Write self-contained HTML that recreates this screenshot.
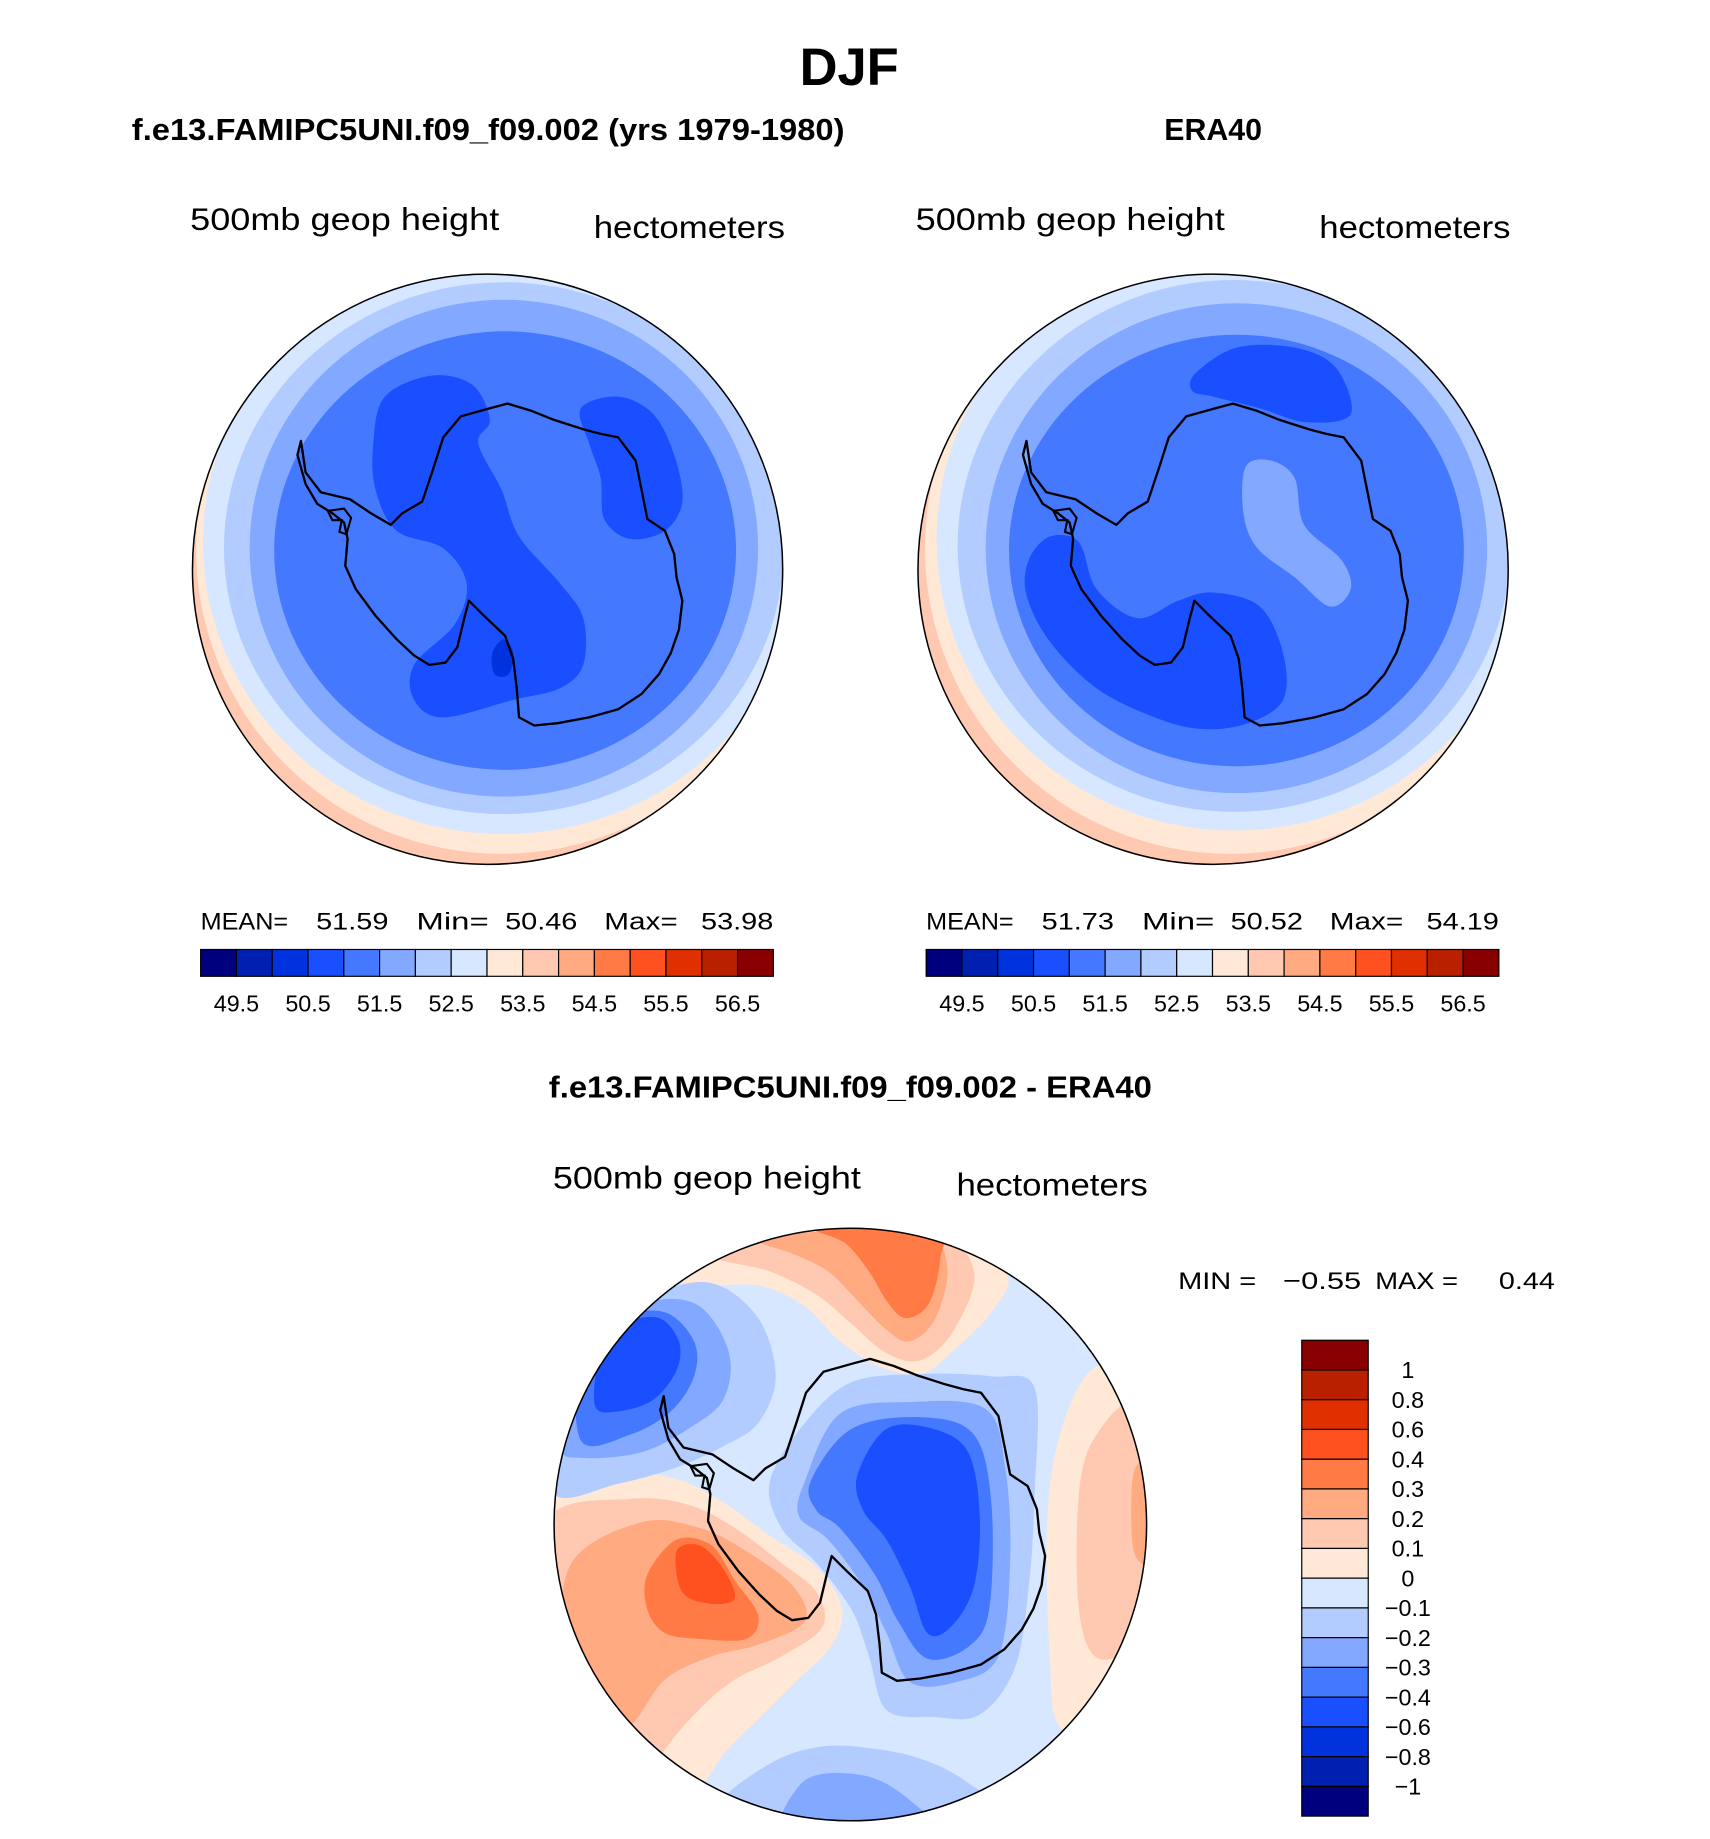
<!DOCTYPE html>
<html><head><meta charset="utf-8"><style>
html,body{margin:0;padding:0;background:#fff}
svg{display:block}
text{font-family:"Liberation Sans",sans-serif;fill:#000}
.b{font-weight:bold}
</style></head><body>
<svg id="root" width="1710" height="1839" viewBox="0 0 1466 1576.6" xmlns="http://www.w3.org/2000/svg">
<defs>
<clipPath id="cL"><circle cx="418" cy="488" r="253"/></clipPath>
<clipPath id="cR"><circle cx="1040" cy="488" r="253"/></clipPath>
<clipPath id="cB"><circle cx="729" cy="1307" r="254"/></clipPath>
</defs>
<text x="728" y="73" text-anchor="middle" class="b" font-size="45">DJF</text>
<text x="113" y="120" class="b" font-size="26" textLength="611" lengthAdjust="spacingAndGlyphs">f.e13.FAMIPC5UNI.f09_f09.002 (yrs 1979-1980)</text>
<text x="1040" y="120" text-anchor="middle" class="b" font-size="26">ERA40</text>
<text x="729" y="941" text-anchor="middle" class="b" font-size="26" textLength="517" lengthAdjust="spacingAndGlyphs">f.e13.FAMIPC5UNI.f09_f09.002 - ERA40</text>

<text x="163" y="197" font-size="27" textLength="265" lengthAdjust="spacingAndGlyphs">500mb geop height</text>
<text x="509" y="204" font-size="27" textLength="164" lengthAdjust="spacingAndGlyphs">hectometers</text>
<text x="785" y="197" font-size="27" textLength="265" lengthAdjust="spacingAndGlyphs">500mb geop height</text>
<text x="1131" y="204" font-size="27" textLength="164" lengthAdjust="spacingAndGlyphs">hectometers</text>
<text x="474" y="1019" font-size="27" textLength="264" lengthAdjust="spacingAndGlyphs">500mb geop height</text>
<text x="820" y="1025" font-size="27" textLength="164" lengthAdjust="spacingAndGlyphs">hectometers</text>

<g id="mapL" clip-path="url(#cL)"></g>
<g id="mapR" clip-path="url(#cR)"></g>
<g id="mapB" clip-path="url(#cB)"></g>
<circle cx="418" cy="488" r="253" fill="none" stroke="#000" stroke-width="1.3"/>
<circle cx="1040" cy="488" r="253" fill="none" stroke="#000" stroke-width="1.3"/>
<circle cx="729" cy="1307" r="254" fill="none" stroke="#000" stroke-width="1.3"/>

<g id="statsL"></g>
<g id="statsR"></g>
<g id="cbL"></g>
<g id="cbR"></g>
<g id="cbB"></g>
<text x="1010" y="1105" font-size="21" textLength="67" lengthAdjust="spacingAndGlyphs">MIN =</text>
<text x="1100" y="1105" font-size="21" textLength="67" lengthAdjust="spacingAndGlyphs">−0.55</text>
<text x="1179" y="1105" font-size="21" textLength="71" lengthAdjust="spacingAndGlyphs">MAX =</text>
<text x="1285" y="1105" font-size="21" textLength="48" lengthAdjust="spacingAndGlyphs">0.44</text>
</svg>
<script>
const colors = ["#00007f","#0021b0","#0033dd","#1a4fff","#4478ff","#83a8ff","#b3ccff","#d6e7ff","#ffe8d6","#ffc8b0","#ffaa80","#ff7a45","#ff5020","#e03000","#b82000","#880000"];
const absLabels = ["49.5","50.5","51.5","52.5","53.5","54.5","55.5","56.5"];
const diffLabels = ["1","0.8","0.6","0.4","0.3","0.2","0.1","0","−0.1","−0.2","−0.3","−0.4","−0.6","−0.8","−1"];
const statsModel = ["51.59","50.46","53.98"];
const statsEra = ["51.73","50.52","54.19"];
const NS="http://www.w3.org/2000/svg";
function mk(tag,attrs,parent){const e=document.createElementNS(NS,tag);for(const k in attrs)e.setAttribute(k,attrs[k]);parent.appendChild(e);return e;}
function smooth(p){let d="M"+p[0][0]+","+p[0][1];const n=p.length;
 for(let i=0;i<n;i++){const p0=p[(i-1+n)%n],p1=p[i],p2=p[(i+1)%n],p3=p[(i+2)%n];
  const c1=[p1[0]+(p2[0]-p0[0])/6,p1[1]+(p2[1]-p0[1])/6],c2=[p2[0]-(p3[0]-p1[0])/6,p2[1]-(p3[1]-p1[1])/6];
  d+="C"+c1.join(",")+" "+c2.join(",")+" "+p2.join(",");}return d+"Z";}
function layer(g,lvl,pts){const e=mk("path",{d:smooth(pts),fill:colors[lvl-1]},g);
 
 }
function ell(g,lvl,cx,cy,rx,ry){const e=mk("ellipse",{cx,cy,rx,ry,fill:colors[lvl-1]},g);
 
 }
const coast=[[258,378],[262,405],[275,422],[300,428],[318,440],[335,450],[345,440],[362,430],[372,400],[380,375],[395,357],[420,350],[435,346],[455,352],[475,360],[500,368],[515,372],[530,375],[545,395],[550,420],[555,445],[570,455],[578,475],[580,495],[585,515],[582,540],[575,560],[565,578],[550,595],[530,608],[505,615],[478,620],[458,622],[445,615],[443,590],[440,565],[433,545],[415,528],[402,515],[398,530],[392,555],[382,568],[368,570],[355,562],[340,548],[322,528],[305,505],[296,485],[298,462],[295,448],[285,440],[272,432],[262,415],[255,390]];
function drawCoast(g,dx,dy){const d="M"+coast.map(p=>(p[0]+dx)+","+(p[1]+dy)).join("L")+"Z";
 const e=mk("path",{d,fill:"none",stroke:"#000","stroke-width":2,"stroke-linejoin":"round"},g);
 
 
 const i=mk("path",{d:`M${281+dx},${438+dy}l14,-2l6,8l-4,14l-6,-2l2,-10l-8,0z`,fill:"none",stroke:"#000","stroke-width":1.8},g);
 
 }
// model map
const L=document.getElementById("mapL");
mk("rect",{x:160,y:230,width:520,height:520,fill:colors[9]},L);
ell(L,9,430,470,262,262);ell(L,8,432,465,258,250);ell(L,7,432,470,240,228);ell(L,6,432,470,218,213);ell(L,5,433,472,198,188);
layer(L,4,[[330,340],[370,322],[405,330],[420,360],[410,380],[430,420],[445,460],[480,500],[500,530],[500,570],[480,590],[440,600],[380,615],[355,600],[355,570],[390,535],[400,500],[380,470],[340,455],[322,420],[320,380]]);
layer(L,4,[[498,350],[530,340],[560,355],[578,390],[585,430],[570,455],[540,462],[518,445],[515,410],[505,380]]);
layer(L,3,[[422,560],[432,548],[440,560],[436,578],[424,578]]);
drawCoast(L,0,0);
// era map
const R=document.getElementById("mapR");
mk("rect",{x:780,y:230,width:520,height:520,fill:colors[9]},R);
ell(R,9,1055,470,262,262);ell(R,8,1058,462,255,250);ell(R,7,1058,468,237,228);ell(R,6,1060,470,215,210);ell(R,5,1060,472,195,185);
layer(R,4,[[1025,320],[1060,298],[1110,298],[1145,315],[1158,355],[1120,362],[1080,350],[1040,340],[1022,335]]);
layer(R,4,[[882,480],[900,460],[925,465],[940,505],[975,530],[1010,515],[1040,508],[1080,520],[1100,560],[1100,600],[1070,620],[1030,625],[990,615],[940,590],[900,550],[880,510]]);
layer(R,6,[[1068,400],[1090,395],[1110,410],[1118,450],[1150,480],[1158,505],[1140,520],[1110,495],[1078,470],[1066,440]]);
drawCoast(R,622,0);
// difference map
const B=document.getElementById("mapB");
mk("rect",{x:470,y:1050,width:520,height:520,fill:colors[7]},B);
layer(B,9,[[560,1090],[620,1070],[700,1050],[800,1052],[862,1090],[850,1125],[815,1160],[790,1178],[755,1172],[720,1150],[690,1120],[650,1102],[600,1102]]);
layer(B,10,[[610,1075],[700,1056],[800,1056],[835,1090],[818,1140],[790,1166],[760,1160],[730,1135],[700,1110],[660,1090]]);
layer(B,11,[[650,1063],[700,1056],[790,1056],[812,1085],[802,1130],[780,1150],[760,1140],[735,1115],[710,1090],[680,1075]]);
layer(B,12,[[700,1052],[800,1052],[806,1080],[796,1118],[776,1130],[760,1115],[745,1090],[725,1066]]);
layer(B,9,[[935,1175],[965,1175],[995,1250],[995,1400],[962,1482],[910,1482],[900,1420],[898,1300],[910,1225]]);
layer(B,10,[[940,1230],[975,1205],[995,1300],[978,1400],[942,1422],[925,1380],[925,1280]]);
layer(B,11,[[972,1262],[990,1260],[990,1335],[972,1330]]);
layer(B,9,[[470,1270],[530,1262],[580,1268],[620,1288],[662,1318],[702,1345],[722,1380],[712,1412],[682,1442],[652,1472],[622,1502],[600,1532],[562,1565],[510,1545],[468,1450],[466,1300]]);
layer(B,10,[[470,1302],[540,1285],[590,1290],[630,1310],[670,1340],[700,1365],[705,1395],[670,1420],[630,1440],[600,1465],[570,1500],[540,1548],[480,1500],[466,1400]]);
layer(B,11,[[490,1340],[550,1305],[600,1310],[640,1330],[680,1360],[690,1390],[650,1410],[610,1420],[570,1440],[540,1480],[500,1500],[482,1420]]);
layer(B,12,[[555,1350],[580,1320],[610,1325],[630,1355],[650,1385],[640,1405],[600,1405],[570,1400],[555,1380]]);
layer(B,13,[[580,1330],[600,1325],[620,1345],[630,1370],[610,1375],[585,1365]]);
layer(B,7,[[476,1200],[520,1140],[560,1110],[610,1100],[650,1130],[665,1180],[650,1220],[620,1240],[580,1258],[530,1272],[474,1280]]);
layer(B,6,[[488,1180],[520,1135],[560,1115],[600,1120],[625,1160],[620,1200],[590,1225],[550,1245],[500,1250],[480,1240]]);
layer(B,5,[[498,1160],[530,1130],[570,1125],[595,1150],[595,1180],[575,1210],[540,1230],[498,1235]]);
layer(B,4,[[515,1160],[535,1135],[565,1130],[582,1150],[580,1175],[560,1200],[530,1210],[510,1205]]);
layer(B,7,[[660,1270],[690,1220],[730,1185],[790,1178],[850,1180],[887,1190],[887,1280],[882,1360],[870,1430],[840,1470],[800,1472],[760,1466],[745,1420],[730,1380],[700,1340],[670,1310]]);
layer(B,6,[[690,1270],[720,1212],[780,1202],[845,1208],[862,1260],[866,1340],[856,1420],[820,1442],[780,1442],[760,1400],[740,1360],[710,1320],[685,1300]]);
layer(B,5,[[695,1270],[730,1225],[790,1215],[835,1230],[850,1290],[848,1380],[830,1412],[795,1422],[770,1390],[750,1350],[720,1310],[700,1295]]);
layer(B,4,[[735,1265],[760,1225],[800,1225],[830,1245],[840,1300],[835,1360],[815,1395],[795,1400],[780,1360],[760,1320],[740,1295]]);
layer(B,7,[[615,1548],[660,1512],[700,1498],[740,1498],[790,1508],[832,1530],[862,1565],[620,1585]]);
layer(B,6,[[675,1585],[688,1528],[740,1522],[782,1545],[812,1585]]);
drawCoast(B,311,819);
// horizontal colorbars
function hbar(id,x0,stats){const g=document.getElementById(id);const w=(663-172)/16;
 colors.forEach((c,i)=>{const r=mk("rect",{x:x0+i*w,y:814,width:w,height:23,fill:c,stroke:"#000","stroke-width":1},g);
  
  });
 absLabels.forEach((t,i)=>{const e=mk("text",{x:x0+(2*i+1)*w,y:867,"text-anchor":"middle","font-size":20},g);e.textContent=t;
  
  });
 const sg=document.getElementById(stats.id);
 const parts=[["MEAN=",0,75],[stats.v[0],99,62],["Min=",185,62],[stats.v[1],261,62],["Max=",346,63],[stats.v[2],429,62]];
 parts.forEach(p=>{const e=mk("text",{x:x0+p[1],y:797,"font-size":21,textLength:p[2],lengthAdjust:"spacingAndGlyphs"},sg);e.textContent=p[0];
  
  });}
hbar("cbL",172,{id:"statsL",v:statsModel});
hbar("cbR",794,{id:"statsR",v:statsEra});
// vertical colorbar
(function(){const g=document.getElementById("cbB");const h=(1557-1149)/16;
 colors.slice().reverse().forEach((c,i)=>{const r=mk("rect",{x:1116,y:1149+i*h,width:57,height:h,fill:c,stroke:"#000","stroke-width":1},g);
  
  });
 diffLabels.forEach((t,i)=>{const e=mk("text",{x:1207,y:1149+(i+1)*h+7,"text-anchor":"middle","font-size":20},g);e.textContent=t;
  
  });})();
</script>
</body></html>
